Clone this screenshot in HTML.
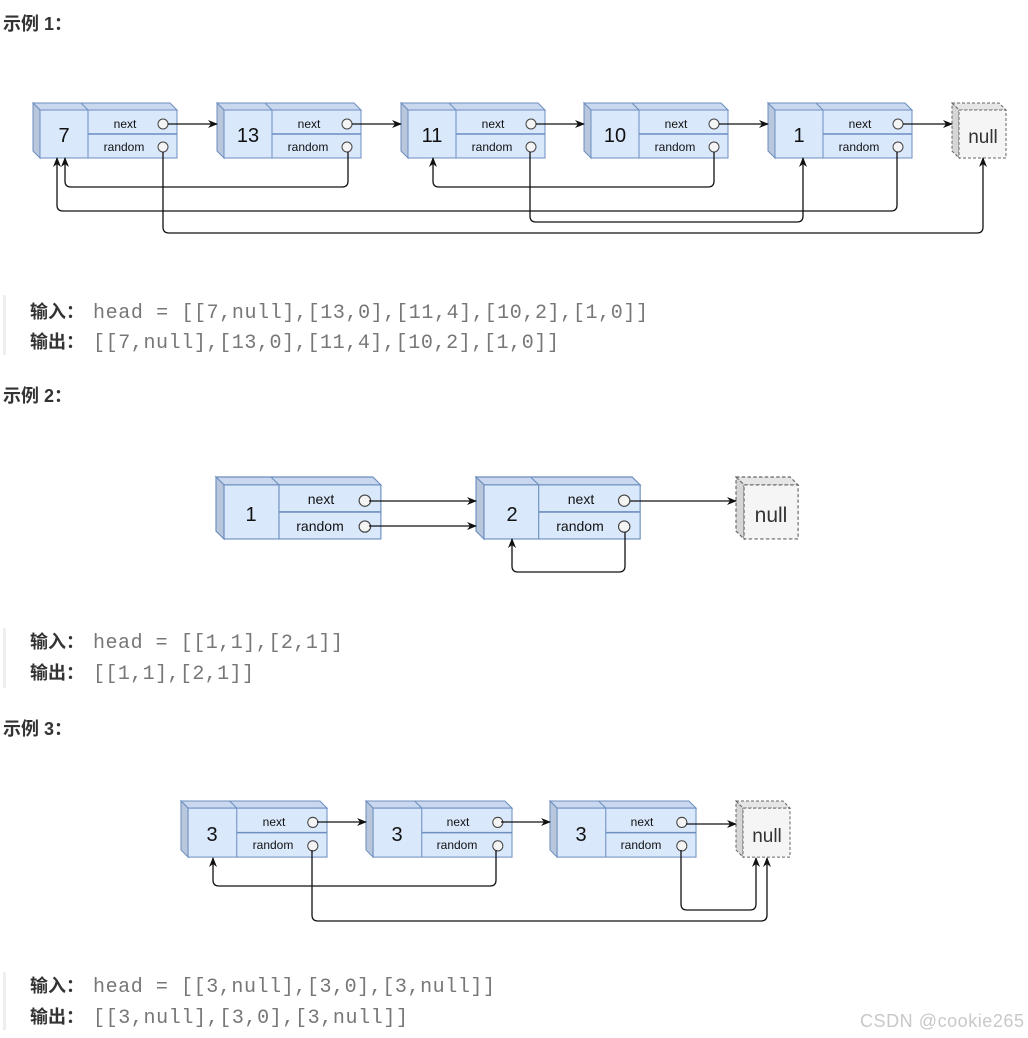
<!DOCTYPE html>
<html><head><meta charset="utf-8"><style>
html,body{margin:0;padding:0;background:#fff;width:1028px;height:1038px;overflow:hidden}
svg{display:block}
.h{font-family:"Liberation Sans","Noto Sans CJK SC",sans-serif;font-weight:bold;font-size:18px;fill:#333}
.lb{font-family:"Liberation Sans","Noto Sans CJK SC",sans-serif;font-weight:bold;font-size:18px;fill:#333}
.m{font-family:"Liberation Mono",monospace;font-size:20px;fill:#777}
.v{font-family:"Liberation Sans",sans-serif;font-size:20px;fill:#111;text-anchor:middle}
.f{font-family:"Liberation Sans",sans-serif;font-size:12px;fill:#111;text-anchor:middle}
.nl{font-family:"Liberation Sans",sans-serif;font-size:19px;fill:#333;text-anchor:middle}
.c{fill:none;stroke:#111;stroke-width:1.3}
</style></head><body>
<svg width="1028" height="1038" viewBox="0 0 1028 1038" xmlns="http://www.w3.org/2000/svg">
<defs>
<marker id="a" markerWidth="10" markerHeight="10" refX="9" refY="5" orient="auto" markerUnits="userSpaceOnUse">
<path d="M0,1 L10,5 L0,9 L3,5 z" fill="#111"/></marker>
<g id="node">
<polygon points="0,0 137,0 144,7 7,7" fill="#c9d8ee" stroke="#6c8ebf"/>
<polygon points="0,0 7,7 7,55 0,48" fill="#b9c7dc" stroke="#6c8ebf"/>
<rect x="7" y="7" width="137" height="48" fill="#dae8fc" stroke="#6c8ebf"/>
<line x1="48" y1="0" x2="55" y2="7" stroke="#6c8ebf"/>
<line x1="55" y1="7" x2="55" y2="55" stroke="#6c8ebf"/>
<line x1="55" y1="31" x2="144" y2="31" stroke="#6c8ebf" stroke-width="1.5"/>
<circle cx="130" cy="21" r="5" fill="#f4f4f4" stroke="#444"/>
<circle cx="130" cy="44" r="5" fill="#f4f4f4" stroke="#444"/>
</g>
<g id="null">
<polygon points="0,0 47,0 54,7 7,7" fill="#e6e6e6" stroke="#666" stroke-dasharray="3,2"/>
<polygon points="0,0 7,7 7,55 0,48" fill="#d6d6d6" stroke="#666" stroke-dasharray="3,2"/>
<rect x="7" y="7" width="47" height="48" fill="#f5f5f5" stroke="#666" stroke-dasharray="3,2"/>
</g>
</defs>

<text class="h" x="3" y="30">示例 1：</text>
<text class="h" x="3" y="402">示例 2：</text>
<text class="h" x="3" y="735">示例 3：</text>

<use href="#node" x="33" y="103"/><use href="#node" x="217" y="103"/><use href="#node" x="401" y="103"/><use href="#node" x="584" y="103"/><use href="#node" x="768" y="103"/>
<use href="#null" x="952" y="103"/>
<text class="v" x="64" y="142">7</text><text class="f" x="125" y="128">next</text><text class="f" x="124" y="151">random</text>
<text class="v" x="248" y="142">13</text><text class="f" x="309" y="128">next</text><text class="f" x="308" y="151">random</text>
<text class="v" x="432" y="142">11</text><text class="f" x="493" y="128">next</text><text class="f" x="492" y="151">random</text>
<text class="v" x="615" y="142">10</text><text class="f" x="676" y="128">next</text><text class="f" x="675" y="151">random</text>
<text class="v" x="799" y="142">1</text><text class="f" x="860" y="128">next</text><text class="f" x="859" y="151">random</text>
<text class="nl" x="983" y="143">null</text>
<path class="c" marker-end="url(#a)" d="M168,124 H217"/>
<path class="c" marker-end="url(#a)" d="M352,124 H401"/>
<path class="c" marker-end="url(#a)" d="M536,124 H584"/>
<path class="c" marker-end="url(#a)" d="M719,124 H768"/>
<path class="c" marker-end="url(#a)" d="M903,124 H952"/>
<path class="c" marker-end="url(#a)" d="M348,152 V181 q0,6 -6,6 H71 q-6,0 -6,-6 V158"/>
<path class="c" marker-end="url(#a)" d="M163,152 V227 q0,6 6,6 H977 q6,0 6,-6 V158"/>
<path class="c" marker-end="url(#a)" d="M530,152 V216 q0,6 6,6 H797 q6,0 6,-6 V158"/>
<path class="c" marker-end="url(#a)" d="M714,152 V181 q0,6 -6,6 H439 q-6,0 -6,-6 V158"/>
<path class="c" marker-end="url(#a)" d="M897,152 V205 q0,6 -6,6 H63 q-6,0 -6,-6 V158"/>

<rect x="3" y="295" width="3" height="60" fill="#eee"/>
<text class="lb" x="30" y="318">输入：</text><text class="m" x="93" y="318" textLength="555">head = [[7,null],[13,0],[11,4],[10,2],[1,0]]</text>
<text class="lb" x="30" y="348">输出：</text><text class="m" x="93" y="348" textLength="466">[[7,null],[13,0],[11,4],[10,2],[1,0]]</text>

<g transform="translate(216,477) scale(1.145,1.127)"><use href="#node"/></g>
<g transform="translate(476,477) scale(1.14,1.127)"><use href="#node"/></g>
<g transform="translate(736,477) scale(1.15,1.127)"><use href="#null"/></g>
<text class="v" x="251" y="521">1</text><text class="f" x="321" y="504" style="font-size:14px">next</text><text class="f" x="320" y="531" style="font-size:14px">random</text>
<text class="v" x="512" y="521">2</text><text class="f" x="581" y="504" style="font-size:14px">next</text><text class="f" x="580" y="531" style="font-size:14px">random</text>
<text class="nl" x="771" y="522" style="font-size:21px">null</text>
<path class="c" marker-end="url(#a)" d="M369,501 H476"/>
<path class="c" marker-end="url(#a)" d="M369,526 H476"/>
<path class="c" marker-end="url(#a)" d="M630,501 H736"/>
<path class="c" marker-end="url(#a)" d="M625,532 V566 q0,6 -6,6 H518 q-6,0 -6,-6 V539"/>

<rect x="3" y="628" width="3" height="60" fill="#eee"/>
<text class="lb" x="30" y="648">输入：</text><text class="m" x="93" y="648" textLength="250">head = [[1,1],[2,1]]</text>
<text class="lb" x="30" y="679">输出：</text><text class="m" x="93" y="679" textLength="161">[[1,1],[2,1]]</text>

<g transform="translate(181,801) scale(1.014,1.02)"><use href="#node"/></g>
<g transform="translate(366,801) scale(1.014,1.02)"><use href="#node"/></g>
<g transform="translate(550,801) scale(1.014,1.02)"><use href="#node"/></g>
<g transform="translate(736,801) scale(1,1.02)"><use href="#null"/></g>
<text class="v" x="212" y="841">3</text><text class="f" x="274" y="826">next</text><text class="f" x="273" y="849">random</text>
<text class="v" x="397" y="841">3</text><text class="f" x="458" y="826">next</text><text class="f" x="457" y="849">random</text>
<text class="v" x="581" y="841">3</text><text class="f" x="642" y="826">next</text><text class="f" x="641" y="849">random</text>
<text class="nl" x="767" y="842">null</text>
<path class="c" marker-end="url(#a)" d="M317,822 H366"/>
<path class="c" marker-end="url(#a)" d="M501,822 H550"/>
<path class="c" marker-end="url(#a)" d="M686,824 H736"/>
<path class="c" marker-end="url(#a)" d="M496,850 V880 q0,6 -6,6 H219 q-6,0 -6,-6 V858"/>
<path class="c" marker-end="url(#a)" d="M312,850 V915 q0,6 6,6 H761 q6,0 6,-6 V858"/>
<path class="c" marker-end="url(#a)" d="M681,850 V904 q0,6 6,6 H750 q6,0 6,-6 V858"/>

<rect x="3" y="972" width="3" height="58" fill="#eee"/>
<text class="lb" x="30" y="992">输入：</text><text class="m" x="93" y="992" textLength="402">head = [[3,null],[3,0],[3,null]]</text>
<text class="lb" x="30" y="1023">输出：</text><text class="m" x="93" y="1023" textLength="315">[[3,null],[3,0],[3,null]]</text>

<text x="860" y="1027" textLength="164" style="font-family:'Liberation Sans',sans-serif;font-size:18px;fill:#c8c8c8">CSDN @cookie265</text>
</svg>
</body></html>
